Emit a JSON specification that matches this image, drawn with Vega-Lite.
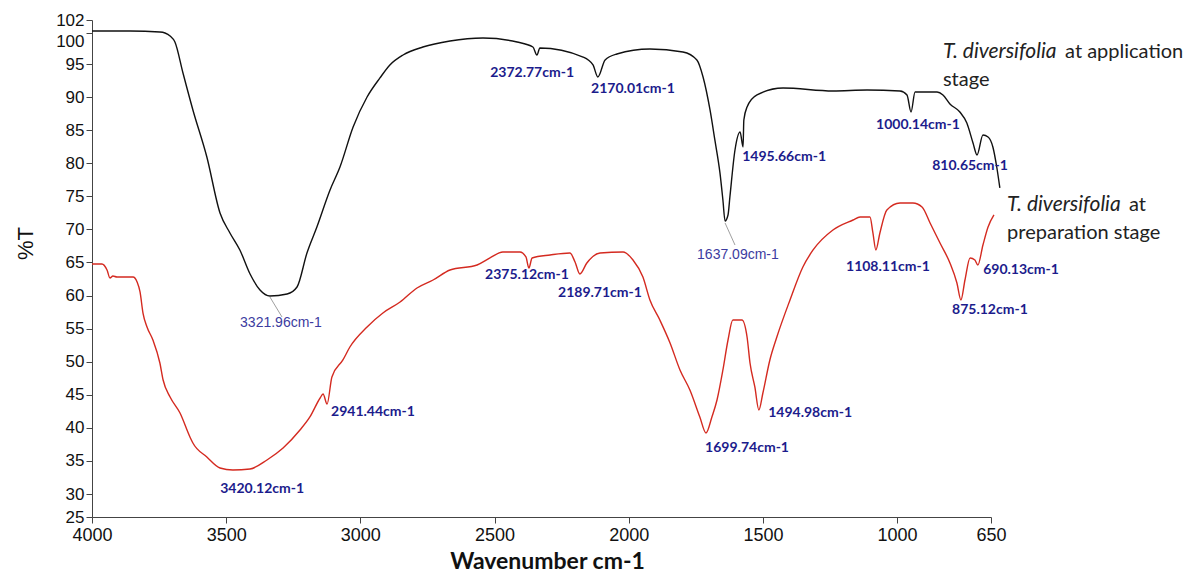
{
  "$schema": "https://vega.github.io/schema/vega-lite/v6.json",
  "autosize": "none",
  "width": 899,
  "height": 497,
  "padding": {"left": 92, "top": 20, "right": 201, "bottom": 57},
  "background": "white",
  "config": {
    "view": {"stroke": null},
    "axis": {"grid": false, "domainColor": "#444444", "tickColor": "#444444", "labelColor": "#111111", "titleColor": "#111111", "labelFont": "Liberation Sans", "tickSize": 6}
  },
  "datasets": {
    "spec": [
      {"s":"app","w":4000,"t":100.25},{"s":"app","w":3858,"t":100.25},{"s":"app","w":3747,"t":100.09},{"s":"app","w":3728,"t":99.93},{"s":"app","w":3709,"t":99.45},{"s":"app","w":3691,"t":98.5},{"s":"app","w":3661,"t":93.64},{"s":"app","w":3624,"t":88.05},{"s":"app","w":3572,"t":80.94},{"s":"app","w":3523,"t":72.48},{"s":"app","w":3486,"t":69.46},{"s":"app","w":3449,"t":66.89},{"s":"app","w":3411,"t":63.26},{"s":"app","w":3374,"t":60.84},{"s":"app","w":3337,"t":59.93},{"s":"app","w":3273,"t":60.23},{"s":"app","w":3236,"t":61.29},{"s":"app","w":3199,"t":66.43},{"s":"app","w":3162,"t":70.36},{"s":"app","w":3113,"t":75.96},{"s":"app","w":3076,"t":79.43},{"s":"app","w":3027,"t":85.48},{"s":"app","w":2975,"t":90.01},{"s":"app","w":2927,"t":92.89},{"s":"app","w":2890,"t":94.85},{"s":"app","w":2841,"t":96.43},{"s":"app","w":2767,"t":97.7},{"s":"app","w":2666,"t":98.66},{"s":"app","w":2543,"t":99.13},{"s":"app","w":2416,"t":98.5},{"s":"app","w":2357,"t":97.7},{"s":"app","w":2342,"t":96.43},{"s":"app","w":2331,"t":97.54},{"s":"app","w":2170,"t":96.11},{"s":"app","w":2133,"t":94.85},{"s":"app","w":2115,"t":93.04},{"s":"app","w":2088,"t":95.64},{"s":"app","w":2044,"t":96.59},{"s":"app","w":1921,"t":97.39},{"s":"app","w":1798,"t":96.91},{"s":"app","w":1746,"t":95.64},{"s":"app","w":1723,"t":93.04},{"s":"app","w":1697,"t":88.05},{"s":"app","w":1679,"t":83.52},{"s":"app","w":1660,"t":78.53},{"s":"app","w":1649,"t":74.44},{"s":"app","w":1641,"t":71.27},{"s":"app","w":1630,"t":72.18},{"s":"app","w":1623,"t":74.9},{"s":"app","w":1604,"t":82.0},{"s":"app","w":1585,"t":84.72},{"s":"app","w":1574,"t":82.46},{"s":"app","w":1571,"t":86.54},{"s":"app","w":1559,"t":88.5},{"s":"app","w":1522,"t":90.32},{"s":"app","w":1425,"t":91.37},{"s":"app","w":1239,"t":90.92},{"s":"app","w":1112,"t":91.07},{"s":"app","w":989,"t":90.92},{"s":"app","w":963,"t":90.32},{"s":"app","w":948,"t":87.75},{"s":"app","w":933,"t":90.77},{"s":"app","w":851,"t":90.77},{"s":"app","w":829,"t":90.32},{"s":"app","w":803,"t":88.96},{"s":"app","w":766,"t":87.75},{"s":"app","w":740,"t":86.08},{"s":"app","w":717,"t":83.06},{"s":"app","w":702,"t":81.25},{"s":"app","w":680,"t":84.27},{"s":"app","w":661,"t":83.97},{"s":"app","w":643,"t":82.46},{"s":"app","w":628,"t":79.28},{"s":"app","w":617,"t":76.26},
      {"s":"prep","w":4000,"t":64.77},{"s":"prep","w":3963,"t":64.77},{"s":"prep","w":3944,"t":63.86},{"s":"prep","w":3933,"t":62.65},{"s":"prep","w":3922,"t":62.96},{"s":"prep","w":3907,"t":62.8},{"s":"prep","w":3847,"t":62.8},{"s":"prep","w":3832,"t":62.05},{"s":"prep","w":3821,"t":60.54},{"s":"prep","w":3810,"t":57.36},{"s":"prep","w":3795,"t":55.25},{"s":"prep","w":3773,"t":53.28},{"s":"prep","w":3747,"t":49.8},{"s":"prep","w":3735,"t":47.23},{"s":"prep","w":3709,"t":44.66},{"s":"prep","w":3672,"t":42.24},{"s":"prep","w":3635,"t":38.62},{"s":"prep","w":3624,"t":37.71},{"s":"prep","w":3572,"t":35.59},{"s":"prep","w":3523,"t":33.93},{"s":"prep","w":3475,"t":33.63},{"s":"prep","w":3411,"t":33.78},{"s":"prep","w":3348,"t":35.14},{"s":"prep","w":3288,"t":36.95},{"s":"prep","w":3225,"t":39.67},{"s":"prep","w":3188,"t":41.64},{"s":"prep","w":3150,"t":44.51},{"s":"prep","w":3139,"t":45.12},{"s":"prep","w":3124,"t":43.61},{"s":"prep","w":3106,"t":47.69},{"s":"prep","w":3065,"t":50.26},{"s":"prep","w":3039,"t":52.22},{"s":"prep","w":2975,"t":55.25},{"s":"prep","w":2916,"t":57.36},{"s":"prep","w":2852,"t":59.02},{"s":"prep","w":2789,"t":61.14},{"s":"prep","w":2729,"t":62.35},{"s":"prep","w":2666,"t":63.86},{"s":"prep","w":2565,"t":64.62},{"s":"prep","w":2517,"t":65.68},{"s":"prep","w":2469,"t":66.58},{"s":"prep","w":2405,"t":66.58},{"s":"prep","w":2383,"t":65.83},{"s":"prep","w":2372,"t":64.16},{"s":"prep","w":2360,"t":65.68},{"s":"prep","w":2293,"t":66.13},{"s":"prep","w":2219,"t":66.43},{"s":"prep","w":2200,"t":65.07},{"s":"prep","w":2182,"t":63.26},{"s":"prep","w":2156,"t":64.92},{"s":"prep","w":2107,"t":66.43},{"s":"prep","w":2021,"t":66.58},{"s":"prep","w":1984,"t":65.37},{"s":"prep","w":1947,"t":62.8},{"s":"prep","w":1921,"t":59.33},{"s":"prep","w":1884,"t":56.3},{"s":"prep","w":1846,"t":52.83},{"s":"prep","w":1809,"t":48.75},{"s":"prep","w":1772,"t":45.72},{"s":"prep","w":1735,"t":41.64},{"s":"prep","w":1712,"t":39.22},{"s":"prep","w":1690,"t":41.64},{"s":"prep","w":1671,"t":44.21},{"s":"prep","w":1649,"t":48.75},{"s":"prep","w":1630,"t":53.28},{"s":"prep","w":1612,"t":56.3},{"s":"prep","w":1578,"t":56.3},{"s":"prep","w":1559,"t":53.73},{"s":"prep","w":1548,"t":49.8},{"s":"prep","w":1530,"t":46.18},{"s":"prep","w":1515,"t":42.7},{"s":"prep","w":1500,"t":45.27},{"s":"prep","w":1474,"t":50.26},{"s":"prep","w":1448,"t":53.73},{"s":"prep","w":1399,"t":59.33},{"s":"prep","w":1351,"t":64.32},{"s":"prep","w":1313,"t":66.89},{"s":"prep","w":1239,"t":69.91},{"s":"prep","w":1164,"t":71.42},{"s":"prep","w":1138,"t":71.87},{"s":"prep","w":1101,"t":71.87},{"s":"prep","w":1090,"t":69.46},{"s":"prep","w":1079,"t":66.89},{"s":"prep","w":1064,"t":69.46},{"s":"prep","w":1038,"t":72.93},{"s":"prep","w":989,"t":73.99},{"s":"prep","w":941,"t":73.99},{"s":"prep","w":907,"t":73.39},{"s":"prep","w":877,"t":70.97},{"s":"prep","w":840,"t":67.94},{"s":"prep","w":803,"t":64.92},{"s":"prep","w":777,"t":61.9},{"s":"prep","w":762,"t":59.33},{"s":"prep","w":747,"t":62.35},{"s":"prep","w":728,"t":65.68},{"s":"prep","w":710,"t":65.37},{"s":"prep","w":699,"t":64.62},{"s":"prep","w":680,"t":67.64},{"s":"prep","w":661,"t":70.36},{"s":"prep","w":639,"t":72.18}
    ],
    "labels": [
      {"g":"bold","w":2360,"t":93.57,"text":"2372.77cm-1"},
      {"g":"bold","w":1984,"t":91.18,"text":"2170.01cm-1"},
      {"g":"bold","w":1421,"t":80.94,"text":"1495.66cm-1"},
      {"g":"bold","w":922,"t":85.78,"text":"1000.14cm-1"},
      {"g":"bold","w":728,"t":79.58,"text":"810.65cm-1"},
      {"g":"bold","w":3366,"t":30.76,"text":"3420.12cm-1"},
      {"g":"bold","w":2953,"t":42.4,"text":"2941.44cm-1"},
      {"g":"bold","w":2379,"t":63.11,"text":"2375.12cm-1"},
      {"g":"bold","w":2107,"t":60.39,"text":"2189.71cm-1"},
      {"g":"bold","w":1559,"t":36.95,"text":"1699.74cm-1"},
      {"g":"bold","w":1324,"t":42.24,"text":"1494.98cm-1"},
      {"g":"bold","w":1034,"t":64.32,"text":"1108.11cm-1"},
      {"g":"bold","w":654,"t":57.82,"text":"875.12cm-1"},
      {"g":"bold","w":538,"t":63.86,"text":"690.13cm-1"},
      {"g":"light","w":3296,"t":55.85,"text":"3321.96cm-1"},
      {"g":"light","w":1593,"t":66.13,"text":"1637.09cm-1"}
    ],
    "leaders": [
      {"w":3337,"t":59.78,"w2":3292,"t2":56.76},
      {"w":1641,"t":70.97,"w2":1604,"t2":67.64}
    ],
    "names": [
      {"f":"italic","w":829,"t":96.91,"text":"T. diversifolia"},
      {"f":"normal","w":374,"t":96.91,"text":"at application"},
      {"f":"normal","w":829,"t":92.59,"text":"stage"},
      {"f":"italic","w":590,"t":73.69,"text":"T. diversifolia"},
      {"f":"normal","w":136,"t":73.69,"text":"at"},
      {"f":"normal","w":590,"t":69.46,"text":"preparation stage"}
    ]
  },
  "encoding": {
    "x": {
      "field": "w", "type": "quantitative",
      "scale": {"domain": [4000, 650], "range": [0, 899], "nice": false, "zero": false},
      "axis": {"values": [4000, 3500, 3000, 2500, 2000, 1500, 1000, 650], "format": "d", "labelFontSize": 18, "labelPadding": 3, "labelOverlap": false, "labelFlush": false,
        "title": "Wavenumber cm-1", "titleFont": "Lato", "titleFontSize": 23, "titleFontWeight": "bold", "titleX": 455, "titleY": 51, "titleBaseline": "alphabetic", "titleAlign": "center", "titleAnchor": null}
    },
    "y": {
      "field": "t", "type": "quantitative",
      "scale": {"domain": [25, 30, 95, 102], "range": [497, 474, 44, 0], "nice": false, "zero": false},
      "axis": {"values": [25, 30, 35, 40, 45, 50, 55, 60, 65, 70, 75, 80, 85, 90, 95, 100, 102], "format": "d", "labelFontSize": 17, "labelPadding": 2, "labelOverlap": false, "labelFlush": false,
        "labelOffset": {"condition": {"test": "datum.value == 100", "value": 9}, "value": 0},
        "title": "%T", "titleFont": "Liberation Sans", "titleFontSize": 22, "titleFontWeight": "normal", "titleX": -67, "titleY": 223, "titleAngle": -90, "titleAlign": "center", "titleBaseline": "middle", "titleAnchor": null}
    }
  },
  "layer": [
    {
      "data": {"name": "spec"},
      "mark": {"type": "line", "strokeWidth": 1.4, "interpolate": "monotone"},
      "encoding": {
        "color": {"field": "s", "type": "nominal", "scale": {"domain": ["app", "prep"], "range": ["#111111", "#d42a20"]}, "legend": null}
      }
    },
    {
      "data": {"name": "leaders"},
      "mark": {"type": "rule", "color": "#a0a0a0", "strokeWidth": 1},
      "encoding": {
        "x2": {"field": "w2"},
        "y2": {"field": "t2"}
      }
    },
    {
      "data": {"name": "labels"},
      "transform": [{"filter": "datum.g == 'bold'"}],
      "mark": {"type": "text", "font": "Lato", "fontWeight": "bold", "fontSize": 14, "color": "#1c1c8c", "align": "center", "baseline": "middle"},
      "encoding": {"text": {"field": "text"}}
    },
    {
      "data": {"name": "labels"},
      "transform": [{"filter": "datum.g == 'light'"}],
      "mark": {"type": "text", "font": "Liberation Sans", "fontSize": 14, "color": "#3c3ca0", "align": "center", "baseline": "middle"},
      "encoding": {"text": {"field": "text"}}
    },
    {
      "data": {"name": "names"},
      "transform": [{"filter": "datum.f == 'italic'"}],
      "mark": {"type": "text", "font": "Lato", "fontStyle": "italic", "fontSize": 21, "color": "#222222", "align": "left", "baseline": "middle"},
      "encoding": {"text": {"field": "text"}}
    },
    {
      "data": {"name": "names"},
      "transform": [{"filter": "datum.f == 'normal'"}],
      "mark": {"type": "text", "font": "Lato", "fontSize": 20, "color": "#222222", "align": "left", "baseline": "middle"},
      "encoding": {"text": {"field": "text"}}
    }
  ]
}
